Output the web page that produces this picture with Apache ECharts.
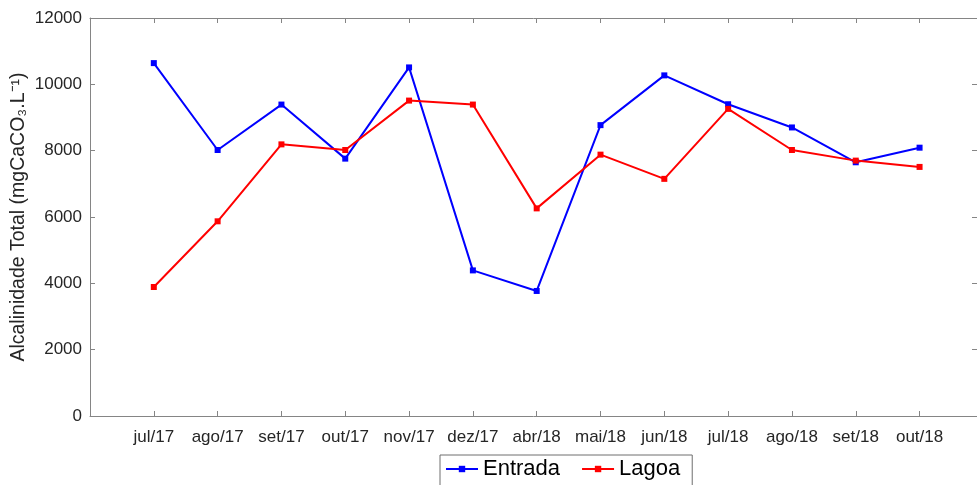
<!DOCTYPE html>
<html>
<head>
<meta charset="utf-8">
<script src="https://cdn.jsdelivr.net/npm/echarts@6/dist/echarts.min.js"></script>
<style>
  html, body { margin: 0; padding: 0; background: #fff; }
  #chart { width: 977px; height: 485px; }
</style>
</head>
<body>
<div id="chart"></div>
<script>
  const months = ['jul/17', 'ago/17', 'set/17', 'out/17', 'nov/17', 'dez/17', 'abr/18',
    'mai/18', 'jun/18', 'jul/18', 'ago/18', 'set/18', 'out/18']
  const entrada = [10640, 8020, 9390, 7760, 10510, 4390, 3770, 8770, 10270, 9400, 8700, 7650, 8090]
  const lagoa = [3890, 5870, 8190, 8020, 9510, 9390, 6260, 7880, 7150, 9260, 8020, 7700, 7510]
  const yTicks = [0, 2000, 4000, 6000, 8000, 10000, 12000]

  const axisGray = '#858585'
  const textColor = '#262626'
  const font = 'Liberation Sans, Arial, sans-serif'

  // months sit at positions 1..n on a value axis
  const toPoints = vals => vals.map((v, i) => [i + 1, v])

  const chart = echarts.init(document.getElementById('chart'))

  const frameAxis = {
    axisLine: { show: true, onZero: false, lineStyle: { color: axisGray, width: 1 } },
    axisTick: { show: true, inside: true, length: 5, lineStyle: { color: axisGray } },
    splitLine: { show: false }
  }

  chart.setOption({
    animation: false,
    grid: { left: 90, top: 18, right: 0, bottom: 69, outerBoundsMode: 'none', containLabel: false },
    legend: {
      top: 455,
      left: 440,
      itemWidth: 32,
      itemHeight: 8,
      itemGap: 21,
      padding: [3, 12, 8, 5],
      borderColor: '#6e6e6e',
      borderWidth: 1,
      textStyle: { fontFamily: font, fontSize: 22, color: '#000' },
      data: ['Entrada', 'Lagoa']
    },
    xAxis: [{
      type: 'value',
      min: 0,
      max: 13.9,
      interval: 1,
      ...frameAxis,
      axisLabel: {
        fontFamily: font, fontSize: 17, color: textColor, margin: 13,
        showMaxLabel: false,
        formatter: v => (Number.isInteger(v) && v >= 1 && v <= months.length) ? months[v - 1] : ''
      }
    }, {
      type: 'value',
      position: 'top',
      min: 0,
      max: 13.9,
      interval: 1,
      ...frameAxis,
      axisLabel: { show: false }
    }],
    yAxis: [{
      type: 'value',
      min: yTicks[0],
      max: yTicks[yTicks.length - 1],
      interval: yTicks[1] - yTicks[0],
      ...frameAxis,
      name: 'Alcalinidade Total (mgCaCO₃.L⁻¹)',
      nameLocation: 'middle',
      nameGap: 61,
      nameMoveOverlap: false,
      nameTextStyle: { fontFamily: font, fontSize: 19.5, color: textColor },
      axisLabel: { fontFamily: font, fontSize: 17, color: textColor, margin: 8, formatter: v => String(v) }
    }, {
      type: 'value',
      position: 'right',
      min: yTicks[0],
      max: yTicks[yTicks.length - 1],
      interval: yTicks[1] - yTicks[0],
      ...frameAxis,
      axisLabel: { show: false }
    }],
    series: [{
      name: 'Entrada',
      type: 'line',
      data: toPoints(entrada),
      symbol: 'rect',
      symbolSize: 6,
      color: '#0000ff',
      lineStyle: { width: 2, color: '#0000ff' },
      itemStyle: { color: '#0000ff' }
    }, {
      name: 'Lagoa',
      type: 'line',
      data: toPoints(lagoa),
      symbol: 'rect',
      symbolSize: 6,
      color: '#ff0000',
      lineStyle: { width: 2, color: '#ff0000' },
      itemStyle: { color: '#ff0000' }
    }]
  })
</script>
</body>
</html>
